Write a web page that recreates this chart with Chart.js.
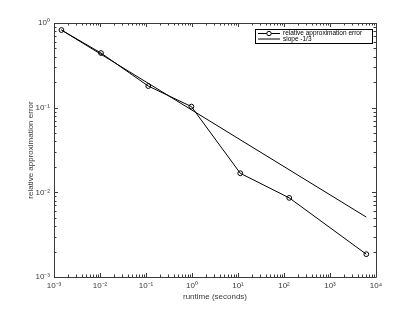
<!DOCTYPE html>
<html>
<head>
<meta charset="utf-8">
<script src="https://cdn.jsdelivr.net/npm/chart.js@4/dist/chart.umd.min.js"></script>
<style>
  html, body { margin: 0; padding: 0; background: #ffffff; }
  #wrap { width: 415px; height: 312px; }
</style>
</head>
<body>
<div id="wrap"><canvas id="c" width="415" height="312"></canvas></div>
<script>
// ---- data ----
const runtimeSeconds = [0.00145, 0.0105, 0.112, 0.97, 11.2, 130, 6150];
const relativeError  = [0.826, 0.442, 0.180, 0.103, 0.0168, 0.0086, 0.00186];
const slopeX = [0.00145, 6150];
const slopeY = [0.826, 0.0051];
const seriesLabels = ['relative approximation error', 'slope -1/3'];
const xTickValues = [1e-3, 1e-2, 1e-1, 1e0, 1e1, 1e2, 1e3, 1e4];
const yTickValues = [1e-3, 1e-2, 1e-1, 1e0];
const xTitle = 'runtime (seconds)';
const yTitle = 'relative approximation error';

const AXIS_COLOR = '#3a3a3a';
const FONT = 'Liberation Sans, Arial, Helvetica, sans-serif';

const SUP = {'-': '\u207B', '0': '\u2070', '1': '\u00B9', '2': '\u00B2', '3': '\u00B3', '4': '\u2074',
             '5': '\u2075', '6': '\u2076', '7': '\u2077', '8': '\u2078', '9': '\u2079'};
function powLabel(v) {
  const e = Math.round(Math.log10(v));
  return '10' + String(e).split('').map(c => SUP[c]).join('');
}

// Box + inward ticks on all four sides (MATLAB style)
const framePlugin = {
  id: 'frame',
  afterDraw(chart) {
    const {ctx, chartArea: a, scales} = chart;
    const xs = scales.x, ys = scales.y;
    ctx.save();
    ctx.strokeStyle = AXIS_COLOR;
    ctx.lineWidth = 1;
    ctx.beginPath();
    ctx.rect(Math.round(a.left) + 0.5, Math.round(a.top) + 0.5,
             Math.round(a.right - a.left), Math.round(a.bottom - a.top));
    ctx.stroke();
    ctx.beginPath();
    const major = 4, minor = 2.5;
    for (let e = -3; e <= 4; e++) {
      for (let k = 1; k <= 9; k++) {
        const v = k * Math.pow(10, e);
        if (v > xs.max * 1.0001) break;
        const px = Math.round(xs.getPixelForValue(v)) + 0.5;
        const len = k === 1 ? major : minor;
        ctx.moveTo(px, a.bottom); ctx.lineTo(px, a.bottom - len);
        ctx.moveTo(px, a.top); ctx.lineTo(px, a.top + len);
      }
    }
    for (let e = -3; e <= 0; e++) {
      for (let k = 1; k <= 9; k++) {
        const v = k * Math.pow(10, e);
        if (v > ys.max * 1.0001) break;
        const py = Math.round(ys.getPixelForValue(v)) + 0.5;
        const len = k === 1 ? major : minor;
        ctx.moveTo(a.left, py); ctx.lineTo(a.left + len, py);
        ctx.moveTo(a.right, py); ctx.lineTo(a.right - len, py);
      }
    }
    ctx.stroke();
    ctx.restore();
  }
};

// Legend box in the upper right of the plot area
const legendPlugin = {
  id: 'boxLegend',
  afterDraw(chart) {
    const {ctx, chartArea: a} = chart;
    const w = 117, h = 14;
    const x0 = Math.round(a.right) - 4 - w, y0 = Math.round(a.top) + 6;
    ctx.save();
    ctx.fillStyle = '#ffffff';
    ctx.fillRect(x0, y0, w, h);
    ctx.strokeStyle = '#000000';
    ctx.lineWidth = 1;
    ctx.strokeRect(x0 + 0.5, y0 + 0.5, w, h);
    ctx.font = '6.5px ' + FONT;
    ctx.fillStyle = '#000000';
    ctx.textBaseline = 'middle';
    chart.data.datasets.forEach((ds, i) => {
      const yy = y0 + 4.5 + i * 5.5;
      ctx.beginPath();
      ctx.moveTo(x0 + 3, yy); ctx.lineTo(x0 + 25, yy);
      ctx.strokeStyle = '#000'; ctx.lineWidth = 1;
      ctx.stroke();
      if (ds.pointRadius > 0) {
        ctx.beginPath();
        ctx.arc(x0 + 14, yy, 2.2, 0, Math.PI * 2);
        ctx.fillStyle = '#fff'; ctx.fill();
        ctx.stroke();
      }
      ctx.fillStyle = '#000';
      ctx.fillText(ds.label, x0 + 28, yy);
    });
    ctx.restore();
  }
};

const tickFont = {family: FONT, size: 8};
const titleFont = {family: FONT, size: 8};

new Chart(document.getElementById('c'), {
  type: 'line',
  data: {
    datasets: [
      {
        label: seriesLabels[0],
        data: runtimeSeconds.map((x, i) => ({x, y: relativeError[i]})),
        borderColor: '#000000',
        borderWidth: 1,
        pointRadius: 2.4,
        pointStyle: 'circle',
        pointBorderColor: '#000000',
        pointBackgroundColor: 'rgba(0,0,0,0)',
        pointBorderWidth: 1,
        tension: 0,
        fill: false
      },
      {
        label: seriesLabels[1],
        data: slopeX.map((x, i) => ({x, y: slopeY[i]})),
        borderColor: '#000000',
        borderWidth: 1,
        pointRadius: 0,
        tension: 0,
        fill: false
      }
    ]
  },
  options: {
    responsive: false,
    animation: false,
    devicePixelRatio: 1,
    layout: { padding: { left: 22, right: 39, top: 23, bottom: 6 } },
    plugins: {
      legend: { display: false },
      tooltip: { enabled: false }
    },
    scales: {
      x: {
        type: 'logarithmic',
        position: 'bottom',
        min: 1e-3, max: 1e4,
        afterBuildTicks: s => { s.ticks = xTickValues.map(v => ({value: v})); },
        afterFit: s => { s.height = 29; },
        ticks: { callback: v => powLabel(v), font: tickFont, color: AXIS_COLOR, padding: 4,
                 autoSkip: false, maxRotation: 0, minRotation: 0 },
        grid: { display: false, drawTicks: false },
        border: { display: false },
        title: { display: true, text: xTitle, font: titleFont, color: AXIS_COLOR, padding: {top: 2, bottom: 4} }
      },
      y: {
        type: 'logarithmic',
        position: 'left',
        min: 1e-3, max: 1,
        afterBuildTicks: s => { s.ticks = yTickValues.map(v => ({value: v})); },
        afterFit: s => { s.width = 32; },
        ticks: { callback: v => powLabel(v), font: tickFont, color: AXIS_COLOR, padding: 4,
                 autoSkip: false },
        grid: { display: false, drawTicks: false },
        border: { display: false },
        title: { display: true, text: yTitle, font: titleFont, color: AXIS_COLOR, padding: {top: 4, bottom: 2} }
      }
    }
  },
  plugins: [framePlugin, legendPlugin]
});
</script>
</body>
</html>
